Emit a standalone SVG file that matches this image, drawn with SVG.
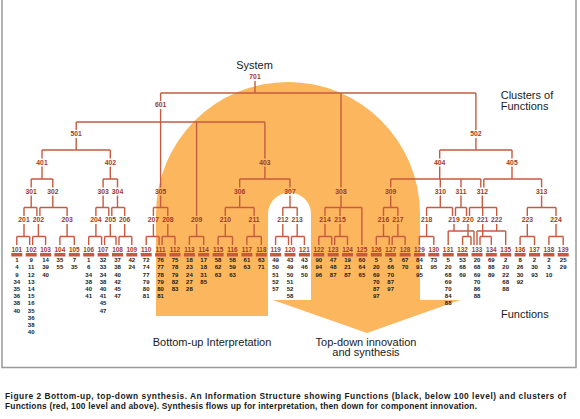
<svg xmlns="http://www.w3.org/2000/svg" width="580" height="419" viewBox="0 0 580 419">
<style>
.lbl{font-family:"Liberation Sans",Arial,sans-serif;font-size:6.8px;font-weight:bold;fill:#9e3b27;text-anchor:middle}
.l1{font-family:"Liberation Sans",Arial,sans-serif;font-size:6.4px;font-weight:bold;fill:#9e3b27;text-anchor:middle}
.fn{font-family:"Liberation Sans",Arial,sans-serif;font-size:6px;font-weight:bold;fill:#1a1a1a;text-anchor:middle}
.bar{fill:#c9573c}
.cn path{stroke:#c65b40;stroke-width:1.4;fill:none}
.t{font-family:"Liberation Sans",Arial,sans-serif;font-size:11px;fill:#1a1a1a}
.cap{font-family:"Liberation Sans",Arial,sans-serif;font-size:8.4px;font-weight:bold;fill:#1a1a1a}
</style>
<rect x="0" y="0" width="580" height="419" fill="#ffffff"/>
<path d="M2 -2V367.5H576V-2" stroke="#9a9a9a" stroke-width="1.5" fill="none"/>
<path id="flow" d="M156 316V214A132 132 0 0 1 420 214V300H460L367 333L273 300H311V214A21.5 21.5 0 0 0 268 214V316Z" fill="#fcb75e"/>
<g class="cn" id="connectors">
<path d="M255 81V93M160.6 93H475.9M160.6 93V101M341 93V187.5M475.9 93V130"/>
<path d="M160.6 109V187.5M76.2 122H264.9M76.2 122V130M196.6 122V216M264.9 122V158.5"/>
<path d="M76.2 138V150M42 150H110.3M42 150V158.5M110.3 150V158.5"/>
<path d="M475.9 138V150M439.7 150H512M439.7 150V158.5M512 150V158.5"/>
<path d="M42 166.5V179M31.2 179H52.8M31.2 179V187.5M52.8 179V187.5"/>
<path d="M110.3 166.5V179M103.1 179H117.5M103.1 179V187.5M117.5 179V187.5"/>
<path d="M264.9 166.5V179M239.7 179H290M239.7 179V187.5M290 179V187.5"/>
<path d="M439.7 166.5V179M390.7 179H480.8M390.7 179V187.5M440.3 179V187.5M461 179V187.5M480.8 179V187.5"/>
<path d="M512 166.5V179M483.8 179H541.6M483.8 179V187.5M541.6 179V187.5"/>
<path d="M31.2 195.5V207.5M24 207.5H36.9M24 207.5V216M36.9 207.5V216"/>
<path d="M52.8 195.5V207.5M39.9 207.5H67.1M39.9 207.5V216M67.1 207.5V216"/>
<path d="M103.1 195.5V207.5M95.9 207.5H108.8M95.9 207.5V216M108.8 207.5V216"/>
<path d="M117.5 195.5V207.5M111.8 207.5H124.7M111.8 207.5V216M124.7 207.5V216"/>
<path d="M160.6 195.5V207.5M153.4 207.5H167.8M153.4 207.5V216M167.8 207.5V216"/>
<path d="M239.7 195.5V207.5M225.3 207.5H254.1M225.3 207.5V216M254.1 207.5V216"/>
<path d="M290 195.5V207.5M282.8 207.5H297.2M282.8 207.5V216M297.2 207.5V216"/>
<path d="M341 195.5V207.5M325 207.5H361.9M325 207.5V216M340 207.5V216M361.9 207.5V245"/>
<path d="M390.7 195.5V207.5M383.5 207.5H397.9M383.5 207.5V216M397.9 207.5V216"/>
<path d="M440.3 195.5V207.5M426.6 207.5H452.5M426.6 207.5V216M452.5 207.5V216"/>
<path d="M461 195.5V207.5M455.5 207.5H466.5M455.5 207.5V216M466.5 207.5V216"/>
<path d="M482.3 195.5V207.5M469.5 207.5H496.7M469.5 207.5V216M482.7 207.5V216M496.7 207.5V216"/>
<path d="M541.6 195.5V207.5M527.3 207.5H556M527.3 207.5V216M556 207.5V216"/>
<path d="M24 224V236.5M16.8 236.5H29.7M16.8 236.5V245M29.7 236.5V245"/>
<path d="M38.4 224V236.5M32.7 236.5H45.6M32.7 236.5V245M45.6 236.5V245"/>
<path d="M67.1 224V236.5M59.9 236.5H74.3M59.9 236.5V245M74.3 236.5V245"/>
<path d="M95.9 224V236.5M88.7 236.5H101.6M88.7 236.5V245M101.6 236.5V245"/>
<path d="M110.3 224V236.5M104.6 236.5H116M104.6 236.5V245M116 236.5V245"/>
<path d="M124.7 224V236.5M119 236.5H131.8M119 236.5V245M131.8 236.5V245"/>
<path d="M153.4 224V236.5M146.2 236.5H159.1M146.2 236.5V245M159.1 236.5V245"/>
<path d="M167.8 224V236.5M162.1 236.5H175M162.1 236.5V245M175 236.5V245"/>
<path d="M196.6 224V236.5M189.4 236.5H203.7M189.4 236.5V245M203.7 236.5V245"/>
<path d="M225.3 224V236.5M218.1 236.5H232.5M218.1 236.5V245M232.5 236.5V245"/>
<path d="M254.1 224V236.5M246.9 236.5H261.3M246.9 236.5V245M261.3 236.5V245"/>
<path d="M282.8 224V236.5M275.6 236.5H288.5M275.6 236.5V245M288.5 236.5V245"/>
<path d="M297.2 224V236.5M291.5 236.5H304.4M291.5 236.5V245M304.4 236.5V245"/>
<path d="M325 224V236.5M318.8 236.5H331.7M318.8 236.5V245M331.7 236.5V245"/>
<path d="M340 224V236.5M334.7 236.5H347.5M334.7 236.5V245M347.5 236.5V245"/>
<path d="M383.5 224V236.5M376.3 236.5H389.2M376.3 236.5V245M389.2 236.5V245"/>
<path d="M397.9 224V236.5M392.2 236.5H405.1M392.2 236.5V245M405.1 236.5V245"/>
<path d="M426.6 224V236.5M419.4 236.5H433.8M419.4 236.5V245M433.8 236.5V245"/>
<path d="M454 224V231M448.2 231H474M448.2 231V245M474 231V245"/>
<path d="M468 224V236.5M462.6 236.5H471M462.6 236.5V245M471 236.5V245"/>
<path d="M482.7 224V236.5M480 236.5H491.3M480 236.5V245M491.3 236.5V245"/>
<path d="M496.7 224V231M477 231H505.7M477 231V245M505.7 231V245"/>
<path d="M527.3 224V236.5M520.1 236.5H534.5M520.1 236.5V245M534.5 236.5V245"/>
<path d="M556 224V236.5M548.9 236.5H563.2M548.9 236.5V245M563.2 236.5V245"/>
</g>
<text class="t" x="254.5" y="68.5" text-anchor="middle">System</text>
<text class="t" x="500.7" y="99">Clusters of</text>
<text class="t" x="500.7" y="109.5">Functions</text>
<text class="t" x="501" y="318">Functions</text>
<text class="t" x="152.7" y="345.5">Bottom-up Interpretation</text>
<text class="t" x="366" y="345.5" text-anchor="middle">Top-down innovation</text>
<text class="t" x="366" y="356" text-anchor="middle">and synthesis</text>
<g id="n701"><text class="lbl" x="255" y="79.4">701</text></g>
<g id="n601"><text class="lbl" x="160.6" y="107.4">601</text></g>
<g id="n501"><text class="lbl" x="76.2" y="136.4">501</text></g>
<g id="n502"><text class="lbl" x="475.9" y="136.4">502</text></g>
<g id="n401"><text class="lbl" x="42" y="164.9">401</text></g>
<g id="n402"><text class="lbl" x="110.3" y="164.9">402</text></g>
<g id="n403"><text class="lbl" x="264.9" y="164.9">403</text></g>
<g id="n404"><text class="lbl" x="439.7" y="164.9">404</text></g>
<g id="n405"><text class="lbl" x="512" y="164.9">405</text></g>
<g id="n301"><text class="lbl" x="31.2" y="193.9">301</text></g>
<g id="n302"><text class="lbl" x="52.8" y="193.9">302</text></g>
<g id="n303"><text class="lbl" x="103.1" y="193.9">303</text></g>
<g id="n304"><text class="lbl" x="117.5" y="193.9">304</text></g>
<g id="n305"><text class="lbl" x="160.6" y="193.9">305</text></g>
<g id="n306"><text class="lbl" x="239.7" y="193.9">306</text></g>
<g id="n307"><text class="lbl" x="290" y="193.9">307</text></g>
<g id="n308"><text class="lbl" x="341" y="193.9">308</text></g>
<g id="n309"><text class="lbl" x="390.7" y="193.9">309</text></g>
<g id="n310"><text class="lbl" x="440.3" y="193.9">310</text></g>
<g id="n311"><text class="lbl" x="461" y="193.9">311</text></g>
<g id="n312"><text class="lbl" x="482.3" y="193.9">312</text></g>
<g id="n313"><text class="lbl" x="541.6" y="193.9">313</text></g>
<g id="n201"><text class="lbl" x="24" y="222.4">201</text></g>
<g id="n202"><text class="lbl" x="38.4" y="222.4">202</text></g>
<g id="n203"><text class="lbl" x="67.1" y="222.4">203</text></g>
<g id="n204"><text class="lbl" x="95.9" y="222.4">204</text></g>
<g id="n205"><text class="lbl" x="110.3" y="222.4">205</text></g>
<g id="n206"><text class="lbl" x="124.7" y="222.4">206</text></g>
<g id="n207"><text class="lbl" x="153.4" y="222.4">207</text></g>
<g id="n208"><text class="lbl" x="167.8" y="222.4">208</text></g>
<g id="n209"><text class="lbl" x="196.6" y="222.4">209</text></g>
<g id="n210"><text class="lbl" x="225.3" y="222.4">210</text></g>
<g id="n211"><text class="lbl" x="254.1" y="222.4">211</text></g>
<g id="n212"><text class="lbl" x="282.8" y="222.4">212</text></g>
<g id="n213"><text class="lbl" x="297.2" y="222.4">213</text></g>
<g id="n214"><text class="lbl" x="325" y="222.4">214</text></g>
<g id="n215"><text class="lbl" x="340" y="222.4">215</text></g>
<g id="n216"><text class="lbl" x="383.5" y="222.4">216</text></g>
<g id="n217"><text class="lbl" x="397.9" y="222.4">217</text></g>
<g id="n218"><text class="lbl" x="426.6" y="222.4">218</text></g>
<g id="n219"><text class="lbl" x="454" y="222.4">219</text></g>
<g id="n220"><text class="lbl" x="468" y="222.4">220</text></g>
<g id="n221"><text class="lbl" x="482.7" y="222.4">221</text></g>
<g id="n222"><text class="lbl" x="496.7" y="222.4">222</text></g>
<g id="n223"><text class="lbl" x="527.3" y="222.4">223</text></g>
<g id="n224"><text class="lbl" x="556" y="222.4">224</text></g>
<g id="n101"><text class="l1" x="16.8" y="251.6">101</text><rect class="bar" x="11.3" y="253" width="11" height="3.5"/><text class="fn" y="262.2"><tspan x="16.8">1</tspan><tspan x="16.8" dy="7.2">4</tspan><tspan x="16.8" dy="7.2">9</tspan><tspan x="16.8" dy="7.2">34</tspan><tspan x="16.8" dy="7.2">35</tspan><tspan x="16.8" dy="7.2">36</tspan><tspan x="16.8" dy="7.2">38</tspan><tspan x="16.8" dy="7.2">40</tspan></text></g>
<g id="n102"><text class="l1" x="31.2" y="251.6">102</text><rect class="bar" x="25.7" y="253" width="11" height="3.5"/><text class="fn" y="262.2"><tspan x="31.2">9</tspan><tspan x="31.2" dy="7.2">11</tspan><tspan x="31.2" dy="7.2">12</tspan><tspan x="31.2" dy="7.2">13</tspan><tspan x="31.2" dy="7.2">14</tspan><tspan x="31.2" dy="7.2">15</tspan><tspan x="31.2" dy="7.2">16</tspan><tspan x="31.2" dy="7.2">35</tspan><tspan x="31.2" dy="7.2">36</tspan><tspan x="31.2" dy="7.2">38</tspan><tspan x="31.2" dy="7.2">40</tspan></text></g>
<g id="n103"><text class="l1" x="45.6" y="251.6">103</text><rect class="bar" x="40.1" y="253" width="11" height="3.5"/><text class="fn" y="262.2"><tspan x="45.6">14</tspan><tspan x="45.6" dy="7.2">39</tspan><tspan x="45.6" dy="7.2">40</tspan></text></g>
<g id="n104"><text class="l1" x="59.9" y="251.6">104</text><rect class="bar" x="54.4" y="253" width="11" height="3.5"/><text class="fn" y="262.2"><tspan x="59.9">35</tspan><tspan x="59.9" dy="7.2">55</tspan></text></g>
<g id="n105"><text class="l1" x="74.3" y="251.6">105</text><rect class="bar" x="68.8" y="253" width="11" height="3.5"/><text class="fn" y="262.2"><tspan x="74.3">7</tspan><tspan x="74.3" dy="7.2">35</tspan></text></g>
<g id="n106"><text class="l1" x="88.7" y="251.6">106</text><rect class="bar" x="83.2" y="253" width="11" height="3.5"/><text class="fn" y="262.2"><tspan x="88.7">1</tspan><tspan x="88.7" dy="7.2">6</tspan><tspan x="88.7" dy="7.2">34</tspan><tspan x="88.7" dy="7.2">38</tspan><tspan x="88.7" dy="7.2">40</tspan><tspan x="88.7" dy="7.2">41</tspan></text></g>
<g id="n107"><text class="l1" x="103.1" y="251.6">107</text><rect class="bar" x="97.6" y="253" width="11" height="3.5"/><text class="fn" y="262.2"><tspan x="103.1">32</tspan><tspan x="103.1" dy="7.2">33</tspan><tspan x="103.1" dy="7.2">34</tspan><tspan x="103.1" dy="7.2">38</tspan><tspan x="103.1" dy="7.2">40</tspan><tspan x="103.1" dy="7.2">41</tspan><tspan x="103.1" dy="7.2">45</tspan><tspan x="103.1" dy="7.2">47</tspan></text></g>
<g id="n108"><text class="l1" x="117.5" y="251.6">108</text><rect class="bar" x="112" y="253" width="11" height="3.5"/><text class="fn" y="262.2"><tspan x="117.5">37</tspan><tspan x="117.5" dy="7.2">38</tspan><tspan x="117.5" dy="7.2">40</tspan><tspan x="117.5" dy="7.2">42</tspan><tspan x="117.5" dy="7.2">45</tspan><tspan x="117.5" dy="7.2">47</tspan></text></g>
<g id="n109"><text class="l1" x="131.8" y="251.6">109</text><rect class="bar" x="126.3" y="253" width="11" height="3.5"/><text class="fn" y="262.2"><tspan x="131.8">42</tspan><tspan x="131.8" dy="7.2">24</tspan></text></g>
<g id="n110"><text class="l1" x="146.2" y="251.6">110</text><rect class="bar" x="140.7" y="253" width="11" height="3.5"/><text class="fn" y="262.2"><tspan x="146.2">72</tspan><tspan x="146.2" dy="7.2">74</tspan><tspan x="146.2" dy="7.2">77</tspan><tspan x="146.2" dy="7.2">79</tspan><tspan x="146.2" dy="7.2">80</tspan><tspan x="146.2" dy="7.2">81</tspan></text></g>
<g id="n111"><text class="l1" x="160.6" y="251.6">111</text><rect class="bar" x="155.1" y="253" width="11" height="3.5"/><text class="fn" y="262.2"><tspan x="160.6">76</tspan><tspan x="160.6" dy="7.2">77</tspan><tspan x="160.6" dy="7.2">78</tspan><tspan x="160.6" dy="7.2">79</tspan><tspan x="160.6" dy="7.2">80</tspan><tspan x="160.6" dy="7.2">81</tspan></text></g>
<g id="n112"><text class="l1" x="175" y="251.6">112</text><rect class="bar" x="169.5" y="253" width="11" height="3.5"/><text class="fn" y="262.2"><tspan x="175">75</tspan><tspan x="175" dy="7.2">78</tspan><tspan x="175" dy="7.2">79</tspan><tspan x="175" dy="7.2">82</tspan><tspan x="175" dy="7.2">83</tspan></text></g>
<g id="n113"><text class="l1" x="189.4" y="251.6">113</text><rect class="bar" x="183.9" y="253" width="11" height="3.5"/><text class="fn" y="262.2"><tspan x="189.4">18</tspan><tspan x="189.4" dy="7.2">23</tspan><tspan x="189.4" dy="7.2">24</tspan><tspan x="189.4" dy="7.2">27</tspan><tspan x="189.4" dy="7.2">28</tspan></text></g>
<g id="n114"><text class="l1" x="203.7" y="251.6">114</text><rect class="bar" x="198.2" y="253" width="11" height="3.5"/><text class="fn" y="262.2"><tspan x="203.7">17</tspan><tspan x="203.7" dy="7.2">18</tspan><tspan x="203.7" dy="7.2">31</tspan><tspan x="203.7" dy="7.2">85</tspan></text></g>
<g id="n115"><text class="l1" x="218.1" y="251.6">115</text><rect class="bar" x="212.6" y="253" width="11" height="3.5"/><text class="fn" y="262.2"><tspan x="218.1">58</tspan><tspan x="218.1" dy="7.2">62</tspan><tspan x="218.1" dy="7.2">63</tspan></text></g>
<g id="n116"><text class="l1" x="232.5" y="251.6">116</text><rect class="bar" x="227" y="253" width="11" height="3.5"/><text class="fn" y="262.2"><tspan x="232.5">58</tspan><tspan x="232.5" dy="7.2">59</tspan><tspan x="232.5" dy="7.2">63</tspan></text></g>
<g id="n117"><text class="l1" x="246.9" y="251.6">117</text><rect class="bar" x="241.4" y="253" width="11" height="3.5"/><text class="fn" y="262.2"><tspan x="246.9">61</tspan><tspan x="246.9" dy="7.2">63</tspan></text></g>
<g id="n118"><text class="l1" x="261.3" y="251.6">118</text><rect class="bar" x="255.8" y="253" width="11" height="3.5"/><text class="fn" y="262.2"><tspan x="261.3">63</tspan><tspan x="261.3" dy="7.2">71</tspan></text></g>
<g id="n119"><text class="l1" x="275.6" y="251.6">119</text><rect class="bar" x="270.1" y="253" width="11" height="3.5"/><text class="fn" y="262.2"><tspan x="275.6">49</tspan><tspan x="275.6" dy="7.2">50</tspan><tspan x="275.6" dy="7.2">51</tspan><tspan x="275.6" dy="7.2">52</tspan><tspan x="275.6" dy="7.2">57</tspan></text></g>
<g id="n120"><text class="l1" x="290" y="251.6">120</text><rect class="bar" x="284.5" y="253" width="11" height="3.5"/><text class="fn" y="262.2"><tspan x="290">43</tspan><tspan x="290" dy="7.2">49</tspan><tspan x="290" dy="7.2">50</tspan><tspan x="290" dy="7.2">51</tspan><tspan x="290" dy="7.2">52</tspan><tspan x="290" dy="7.2">58</tspan></text></g>
<g id="n121"><text class="l1" x="304.4" y="251.6">121</text><rect class="bar" x="298.9" y="253" width="11" height="3.5"/><text class="fn" y="262.2"><tspan x="304.4">43</tspan><tspan x="304.4" dy="7.2">46</tspan><tspan x="304.4" dy="7.2">50</tspan></text></g>
<g id="n122"><text class="l1" x="318.8" y="251.6">122</text><rect class="bar" x="313.3" y="253" width="11" height="3.5"/><text class="fn" y="262.2"><tspan x="318.8">90</tspan><tspan x="318.8" dy="7.2">94</tspan><tspan x="318.8" dy="7.2">96</tspan></text></g>
<g id="n123"><text class="l1" x="333.2" y="251.6">123</text><rect class="bar" x="327.7" y="253" width="11" height="3.5"/><text class="fn" y="262.2"><tspan x="333.2">47</tspan><tspan x="333.2" dy="7.2">48</tspan><tspan x="333.2" dy="7.2">87</tspan></text></g>
<g id="n124"><text class="l1" x="347.5" y="251.6">124</text><rect class="bar" x="342" y="253" width="11" height="3.5"/><text class="fn" y="262.2"><tspan x="347.5">19</tspan><tspan x="347.5" dy="7.2">21</tspan><tspan x="347.5" dy="7.2">87</tspan></text></g>
<g id="n125"><text class="l1" x="361.9" y="251.6">125</text><rect class="bar" x="356.4" y="253" width="11" height="3.5"/><text class="fn" y="262.2"><tspan x="361.9">60</tspan><tspan x="361.9" dy="7.2">64</tspan><tspan x="361.9" dy="7.2">65</tspan></text></g>
<g id="n126"><text class="l1" x="376.3" y="251.6">126</text><rect class="bar" x="370.8" y="253" width="11" height="3.5"/><text class="fn" y="262.2"><tspan x="376.3">5</tspan><tspan x="376.3" dy="7.2">20</tspan><tspan x="376.3" dy="7.2">69</tspan><tspan x="376.3" dy="7.2">70</tspan><tspan x="376.3" dy="7.2">87</tspan><tspan x="376.3" dy="7.2">97</tspan></text></g>
<g id="n127"><text class="l1" x="390.7" y="251.6">127</text><rect class="bar" x="385.2" y="253" width="11" height="3.5"/><text class="fn" y="262.2"><tspan x="390.7">5</tspan><tspan x="390.7" dy="7.2">66</tspan><tspan x="390.7" dy="7.2">70</tspan><tspan x="390.7" dy="7.2">87</tspan><tspan x="390.7" dy="7.2">97</tspan></text></g>
<g id="n128"><text class="l1" x="405.1" y="251.6">128</text><rect class="bar" x="399.6" y="253" width="11" height="3.5"/><text class="fn" y="262.2"><tspan x="405.1">67</tspan><tspan x="405.1" dy="7.2">70</tspan></text></g>
<g id="n129"><text class="l1" x="419.4" y="251.6">129</text><rect class="bar" x="413.9" y="253" width="11" height="3.5"/><text class="fn" y="262.2"><tspan x="419.4">84</tspan><tspan x="419.4" dy="7.2">91</tspan><tspan x="419.4" dy="7.2">95</tspan></text></g>
<g id="n130"><text class="l1" x="433.8" y="251.6">130</text><rect class="bar" x="428.3" y="253" width="11" height="3.5"/><text class="fn" y="262.2"><tspan x="433.8">73</tspan><tspan x="433.8" dy="7.2">95</tspan></text></g>
<g id="n131"><text class="l1" x="448.2" y="251.6">131</text><rect class="bar" x="442.7" y="253" width="11" height="3.5"/><text class="fn" y="262.2"><tspan x="448.2">5</tspan><tspan x="448.2" dy="7.2">20</tspan><tspan x="448.2" dy="7.2">68</tspan><tspan x="448.2" dy="7.2">69</tspan><tspan x="448.2" dy="7.2">70</tspan><tspan x="448.2" dy="7.2">84</tspan><tspan x="448.2" dy="7.2">88</tspan></text></g>
<g id="n132"><text class="l1" x="462.6" y="251.6">132</text><rect class="bar" x="457.1" y="253" width="11" height="3.5"/><text class="fn" y="262.2"><tspan x="462.6">53</tspan><tspan x="462.6" dy="7.2">68</tspan><tspan x="462.6" dy="7.2">69</tspan></text></g>
<g id="n133"><text class="l1" x="477" y="251.6">133</text><rect class="bar" x="471.5" y="253" width="11" height="3.5"/><text class="fn" y="262.2"><tspan x="477">20</tspan><tspan x="477" dy="7.2">68</tspan><tspan x="477" dy="7.2">69</tspan><tspan x="477" dy="7.2">70</tspan><tspan x="477" dy="7.2">86</tspan><tspan x="477" dy="7.2">88</tspan></text></g>
<g id="n134"><text class="l1" x="491.3" y="251.6">134</text><rect class="bar" x="485.8" y="253" width="11" height="3.5"/><text class="fn" y="262.2"><tspan x="491.3">69</tspan><tspan x="491.3" dy="7.2">88</tspan><tspan x="491.3" dy="7.2">89</tspan></text></g>
<g id="n135"><text class="l1" x="505.7" y="251.6">135</text><rect class="bar" x="500.2" y="253" width="11" height="3.5"/><text class="fn" y="262.2"><tspan x="505.7">2</tspan><tspan x="505.7" dy="7.2">20</tspan><tspan x="505.7" dy="7.2">22</tspan><tspan x="505.7" dy="7.2">68</tspan><tspan x="505.7" dy="7.2">88</tspan></text></g>
<g id="n136"><text class="l1" x="520.1" y="251.6">136</text><rect class="bar" x="514.6" y="253" width="11" height="3.5"/><text class="fn" y="262.2"><tspan x="520.1">8</tspan><tspan x="520.1" dy="7.2">26</tspan><tspan x="520.1" dy="7.2">30</tspan><tspan x="520.1" dy="7.2">92</tspan></text></g>
<g id="n137"><text class="l1" x="534.5" y="251.6">137</text><rect class="bar" x="529" y="253" width="11" height="3.5"/><text class="fn" y="262.2"><tspan x="534.5">2</tspan><tspan x="534.5" dy="7.2">30</tspan><tspan x="534.5" dy="7.2">93</tspan></text></g>
<g id="n138"><text class="l1" x="548.9" y="251.6">138</text><rect class="bar" x="543.4" y="253" width="11" height="3.5"/><text class="fn" y="262.2"><tspan x="548.9">2</tspan><tspan x="548.9" dy="7.2">3</tspan><tspan x="548.9" dy="7.2">10</tspan></text></g>
<g id="n139"><text class="l1" x="563.2" y="251.6">139</text><rect class="bar" x="557.7" y="253" width="11" height="3.5"/><text class="fn" y="262.2"><tspan x="563.2">25</tspan><tspan x="563.2" dy="7.2">29</tspan></text></g>
<text class="cap" x="5" y="399" textLength="561" lengthAdjust="spacing">Figure 2 Bottom-up, top-down synthesis. An Information Structure showing Functions (black, below 100 level) and clusters of</text>
<text class="cap" x="5" y="409" textLength="472" lengthAdjust="spacing">Functions (red, 100 level and above). Synthesis flows up for interpretation, then down for component innovation.</text>
</svg>
